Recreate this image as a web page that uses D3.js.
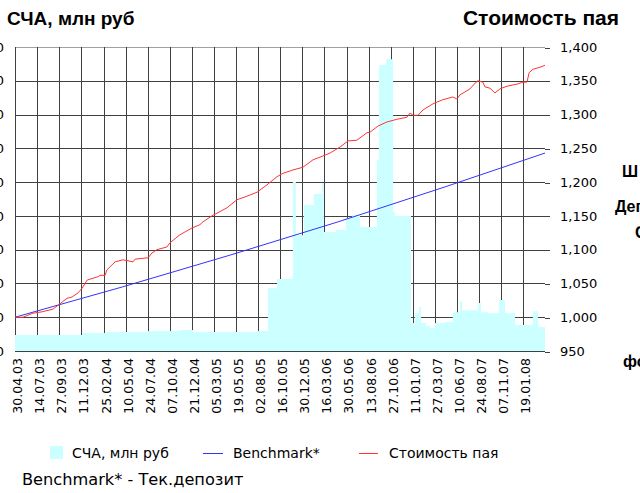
<!DOCTYPE html>
<html>
<head>
<meta charset="utf-8">
<script src="https://cdn.jsdelivr.net/npm/d3@7"></script>
<style>
  body { margin: 0; background: #fff; }
  svg { display: block; }
</style>
</head>
<body>
<div id="chart"></div>
<script>
// x-axis category labels (every 75th day)
const tickLabels = ["30.04.03", "14.07.03", "27.09.03", "11.12.03", "25.02.04", "10.05.04",
  "24.07.04", "07.10.04", "21.12.04", "05.03.05", "19.05.05", "02.08.05", "16.10.05",
  "30.12.05", "16.03.06", "30.05.06", "13.08.06", "27.10.06", "11.01.07", "27.03.07",
  "10.06.07", "24.08.07", "07.11.07", "19.01.08"];

// СЧА, млн руб (left axis) - value from this date on
const navDates = ["2003-04-30", "2003-12-14", "2004-03-07", "2004-07-25", "2004-11-10",
  "2004-12-25", "2005-07-30", "2005-09-05", "2005-10-06", "2005-11-29", "2005-12-09",
  "2006-01-05", "2006-02-08", "2006-03-08", "2006-03-14", "2006-04-24", "2006-05-28",
  "2006-06-17", "2006-07-15", "2006-09-10", "2006-09-17", "2006-10-11", "2006-11-04",
  "2006-11-10", "2007-01-04", "2007-01-17", "2007-01-31", "2007-02-07", "2007-02-24",
  "2007-03-09", "2007-03-26", "2007-04-29", "2007-05-26", "2007-06-19", "2007-06-26",
  "2007-08-19", "2007-08-30", "2007-09-22", "2007-10-30", "2007-11-19", "2007-12-23",
  "2008-02-22", "2008-03-10", "2008-04-03"];
const navValues = [47, 53, 56, 59, 62,
  56, 59, 186, 213, 500, 343,
  432, 465, 497, 352, 358, 394,
  403, 367, 565, 847, 864, 411,
  400, 83, 112, 130, 83, 74,
  68, 83, 86, 115, 148, 121,
  142, 115, 112, 151, 112, 77,
  118, 71, 71];

// Стоимость пая (right axis)
const unitDates = ["2003-04-30", "2003-05-27", "2003-06-30", "2003-07-31", "2003-09-06",
  "2003-09-30", "2003-10-24", "2003-11-10", "2003-11-30", "2003-12-14", "2003-12-31",
  "2004-02-06", "2004-02-13", "2004-03-01", "2004-03-07", "2004-04-04", "2004-05-01",
  "2004-06-04", "2004-06-11", "2004-07-25", "2004-08-07", "2004-08-24", "2004-09-27",
  "2004-10-07", "2004-11-10", "2004-12-21", "2005-01-17", "2005-01-27", "2005-03-02",
  "2005-03-16", "2005-04-19", "2005-05-23", "2005-06-19", "2005-07-30", "2005-09-02",
  "2005-10-06", "2005-10-26", "2005-11-29", "2006-01-02", "2006-02-05", "2006-03-01",
  "2006-04-04", "2006-05-08", "2006-06-04", "2006-07-04", "2006-08-07", "2006-08-18",
  "2006-09-14", "2006-10-14", "2006-11-17", "2006-12-21", "2006-12-31", "2007-01-11",
  "2007-01-28", "2007-02-14", "2007-03-20", "2007-04-22", "2007-05-26", "2007-06-09",
  "2007-06-19", "2007-07-23", "2007-08-13", "2007-08-19", "2007-09-05", "2007-09-12",
  "2007-09-29", "2007-10-16", "2007-11-02", "2007-11-26", "2007-12-30", "2008-01-19",
  "2008-02-02", "2008-02-09", "2008-02-22", "2008-03-17", "2008-04-03"];
const unitValues = [1000, 1000, 1006, 1008, 1012,
  1020, 1028, 1030, 1036, 1043, 1055,
  1060, 1062, 1062, 1070, 1082, 1085,
  1082, 1086, 1088, 1095, 1100, 1104,
  1110, 1122, 1132, 1137, 1141, 1151,
  1154, 1162, 1174, 1178, 1185, 1196,
  1208, 1213, 1218, 1222, 1233, 1237,
  1243, 1252, 1261, 1262, 1273, 1274,
  1283, 1289, 1293, 1296, 1302, 1299,
  1299, 1307, 1316, 1322, 1326, 1323,
  1329, 1338, 1348, 1350, 1348, 1341,
  1339, 1332, 1338, 1342, 1345, 1348,
  1348, 1362, 1367, 1370, 1373];

// Benchmark* (right axis)
const benchDates = ["2003-04-30", "2004-04-30", "2005-04-30", "2006-04-30", "2007-04-30", "2008-04-03"];
const benchValues = [1000, 1045, 1092, 1141, 1193, 1243];

const leftTicks = [0, 100, 200, 300, 400, 500, 600, 700, 800, 900];
const rightTicks = [950, 1000, 1050, 1100, 1150, 1200, 1250, 1300, 1350, 1400];

const width = 640;
const height = 493;
const plotLeft = 15;
const plotRight = 545;
const plotTop = 47;
const plotBottom = 351;

const parseDate = d3.timeParse("%Y-%m-%d");
const parseTick = d3.timeParse("%d.%m.%y");
const fmtTick = d3.timeFormat("%d.%m.%y");

const nav = navDates.map((d, i) => ({date: parseDate(d), value: navValues[i]}));
const unit = unitDates.map((d, i) => ({date: parseDate(d), value: unitValues[i]}));
const bench = benchDates.map((d, i) => ({date: parseDate(d), value: benchValues[i]}));
const tickDates = tickLabels.map(parseTick);

const x = d3.scaleTime()
    .domain([parseDate("2003-04-30"), parseDate("2008-04-03")])
    .range([plotLeft, plotRight]);
const yL = d3.scaleLinear().domain([0, 900]).range([plotBottom, plotTop]);
const yR = d3.scaleLinear().domain([950, 1400]).range([plotBottom, plotTop]);

const svg = d3.select("#chart").append("svg")
    .attr("width", width)
    .attr("height", height)
    .attr("viewBox", [0, 0, width, height])
    .style("font-family", "'DejaVu Sans', Verdana, sans-serif");

// titles
svg.append("text")
    .attr("x", 7).attr("y", 25)
    .style("font-family", "'Liberation Sans', Arial, sans-serif")
    .style("font-weight", "bold").style("font-size", "19px")
    .text("СЧА, млн руб");
svg.append("text")
    .attr("x", 619).attr("y", 25).attr("text-anchor", "end")
    .style("font-family", "'Liberation Sans', Arial, sans-serif")
    .style("font-weight", "bold").style("font-size", "21px")
    .text("Стоимость пая");

// grid
const grid = svg.append("g")
    .attr("stroke", "#404040")
    .attr("shape-rendering", "crispEdges");
grid.selectAll("line.h")
  .data(rightTicks)
  .join("line")
    .attr("class", "h")
    .attr("x1", plotLeft).attr("x2", plotRight)
    .attr("y1", d => Math.round(yR(d)) + 0.5)
    .attr("y2", d => Math.round(yR(d)) + 0.5)
    .attr("stroke", d => d === 1400 ? "#a0a0a0" : null);
grid.selectAll("line.v")
  .data(tickDates)
  .join("line")
    .attr("class", "v")
    .attr("x1", d => Math.round(x(d)) + 0.5)
    .attr("x2", d => Math.round(x(d)) + 0.5)
    .attr("y1", plotTop).attr("y2", plotBottom);

// СЧА bars (daily columns, drawn as a stepped area)
svg.append("path")
    .datum(nav)
    .attr("fill", "#ccffff")
    .attr("d", d3.area()
        .x(d => x(d.date))
        .y0(yL(0))
        .y1(d => yL(d.value))
        .curve(d3.curveStepAfter));

// lines
svg.append("path")
    .datum(bench)
    .attr("fill", "none")
    .attr("stroke", "#3333ff")
    .attr("stroke-width", 1)
    .attr("d", d3.line().x(d => x(d.date)).y(d => yR(d.value)));

svg.append("path")
    .datum(unit)
    .attr("fill", "none")
    .attr("stroke", "#ff3333")
    .attr("stroke-width", 1)
    .attr("d", d3.line().x(d => x(d.date)).y(d => yR(d.value)));

// right axis
svg.append("g")
    .attr("transform", `translate(${plotRight},0)`)
    .call(d3.axisRight(yR).tickValues(rightTicks).tickSize(5).tickPadding(10)
        .tickFormat(d3.format(",")))
    .call(g => g.select(".domain").remove())
    .call(g => g.selectAll("line").attr("stroke", "#404040").attr("shape-rendering", "crispEdges")
        .attr("transform", "translate(0,0.5)"))
    .call(g => g.selectAll("text")
        .style("font-family", "'DejaVu Sans', Verdana, sans-serif")
        .style("font-size", "13px").attr("fill", "#000"));

// left axis (labels run off the left edge)
svg.append("g")
    .attr("transform", `translate(${plotLeft},0)`)
    .call(d3.axisLeft(yL).tickValues(leftTicks).tickSize(0).tickPadding(11))
    .call(g => g.select(".domain").remove())
    .call(g => g.selectAll("text")
        .style("font-family", "'DejaVu Sans', Verdana, sans-serif")
        .style("font-size", "13px").attr("fill", "#000"));

// x axis labels, rotated
svg.append("g")
    .attr("transform", `translate(0,${plotBottom})`)
    .call(d3.axisBottom(x).tickValues(tickDates).tickFormat(fmtTick).tickSize(0))
    .call(g => g.select(".domain").remove())
    .call(g => g.selectAll("text")
        .attr("transform", "rotate(-90)")
        .attr("text-anchor", "end")
        .attr("x", -7)
        .attr("y", 2)
        .attr("dy", "0.35em")
        .style("font-family", "'DejaVu Sans', Verdana, sans-serif")
        .style("font-size", "12.5px").attr("fill", "#000"));

// legend
const legend = svg.append("g").style("font-size", "14px");
legend.append("rect").attr("x", 50).attr("y", 446).attr("width", 13).attr("height", 13).attr("fill", "#ccffff");
legend.append("text").attr("x", 72).attr("y", 458).text("СЧА, млн руб");
legend.append("line").attr("x1", 203).attr("x2", 223).attr("y1", 453.5).attr("y2", 453.5).attr("stroke", "#3333ff");
legend.append("text").attr("x", 233).attr("y", 458).text("Benchmark*");
legend.append("line").attr("x1", 359).attr("x2", 378).attr("y1", 453.5).attr("y2", 453.5).attr("stroke", "#ff3333");
legend.append("text").attr("x", 389).attr("y", 458).text("Стоимость пая");

svg.append("text")
    .attr("x", 22).attr("y", 485)
    .style("font-size", "16.2px")
    .text("Benchmark* - Тек.депозит");

// side captions cut off by the right edge
const side = svg.append("g")
    .style("font-family", "'Liberation Sans', Arial, sans-serif")
    .style("font-weight", "bold").style("font-size", "16px");
side.append("text").attr("x", 622).attr("y", 177).text("Ш");
side.append("text").attr("x", 615).attr("y", 212).text("Деп");
side.append("text").attr("x", 635).attr("y", 238).text("С");
side.append("text").attr("x", 623).attr("y", 367).text("фо");
</script>
</body>
</html>
